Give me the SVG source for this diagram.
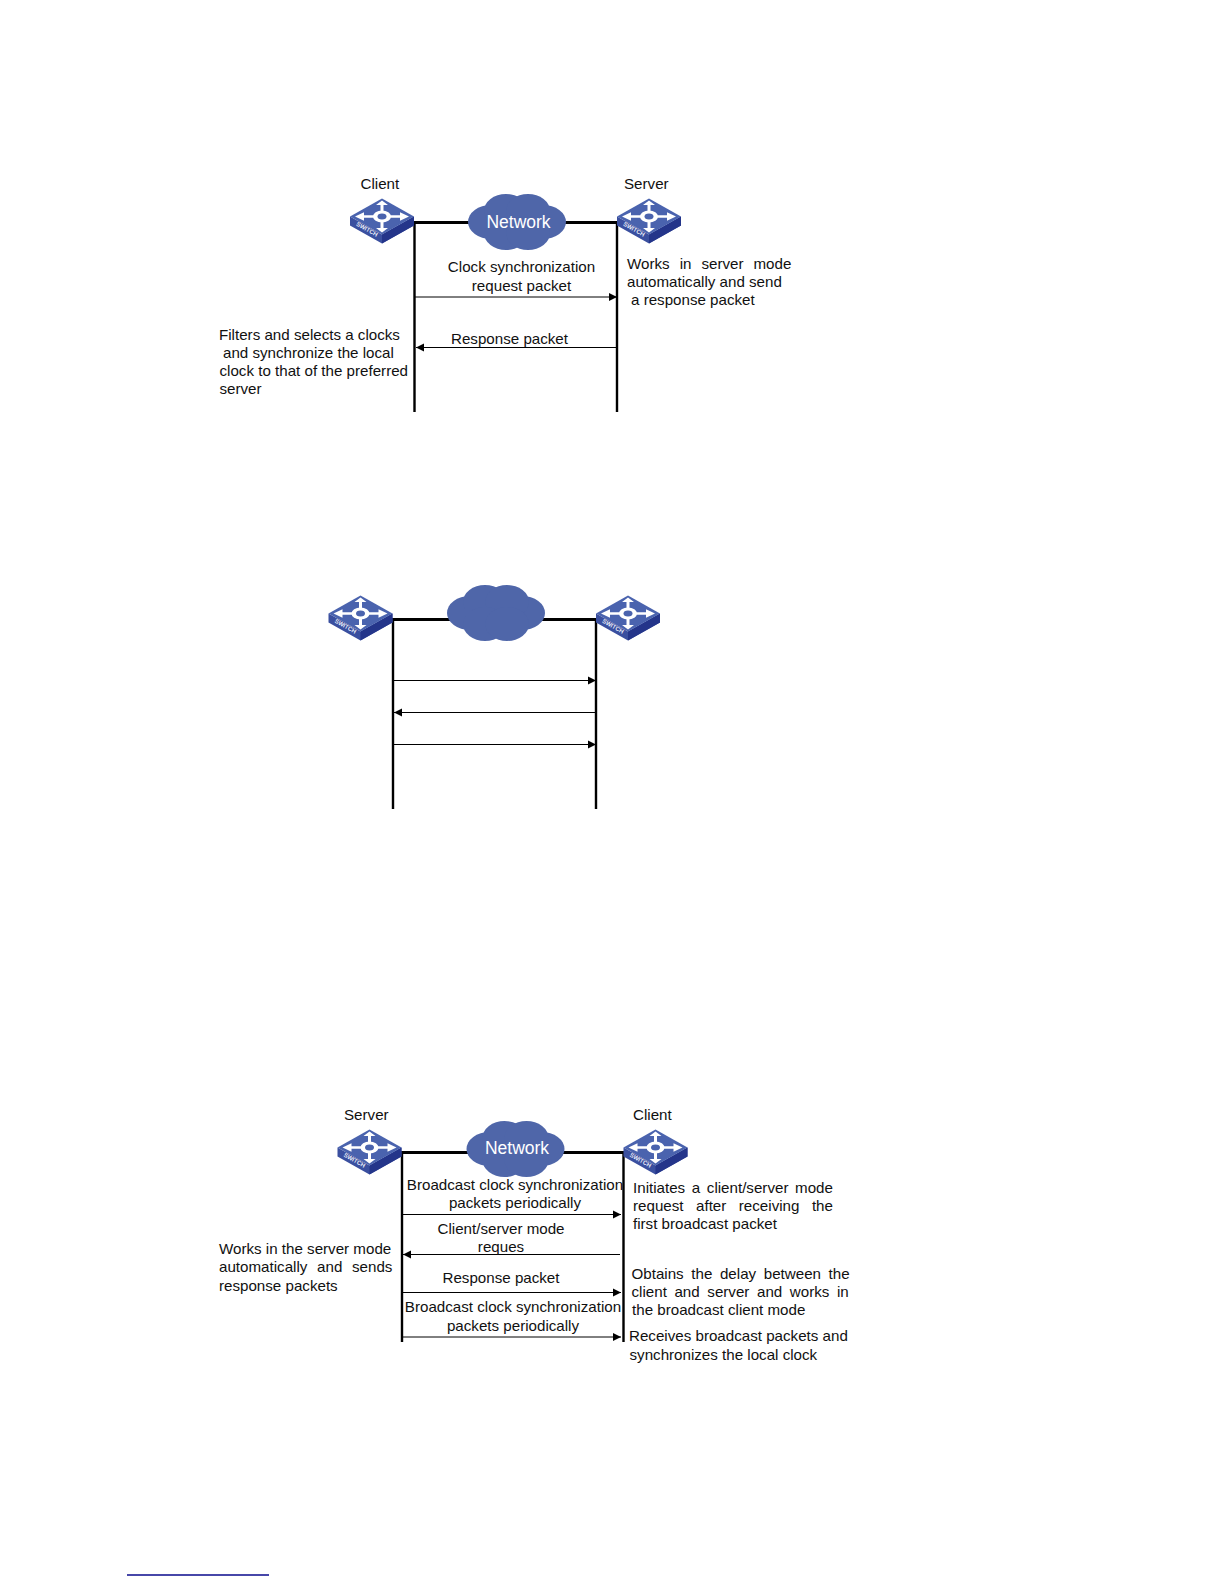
<svg xmlns="http://www.w3.org/2000/svg" width="1224" height="1584" viewBox="0 0 1224 1584">
<style>
text{font-family:"Liberation Sans",Arial,sans-serif;font-size:15.150px;fill:#111}
.c{text-anchor:middle}
.n{fill:#fff;font-size:17.500px;text-anchor:middle}
.t{fill:none;stroke:#000;stroke-width:3}
.v{fill:none;stroke:#000;stroke-width:2.400}
.a{fill:none;stroke:#000;stroke-width:1;marker-end:url(#ah)}
</style>
<defs>
<marker id="ah" markerUnits="userSpaceOnUse" markerWidth="9" markerHeight="9" refX="8" refY="4.500" orient="auto"><path d="M0 .5L8 4.500L0 8.500Z" fill="#000"/></marker>
<g id="sw">
<path d="M-32 0L0 18L32 0V9L0 27L-32 9Z" fill="#3a4f9f"/>
<path d="M0 18L32 0V9L0 27Z" fill="#24358a"/>
<path d="M-32 0L0-18L32 0L0 18Z" fill="#4a63ae"/>
<ellipse cx="0" cy="0" rx="9" ry="6" fill="#fff"/>
<ellipse cx="0" cy="0" rx="4.500" ry="3" fill="#4a63ae"/>
<path d="M0-16L-6-11.500H-1.500V-5H1.500V-11.500H6ZM0 16L-6 11.500H-1.500V5H1.500V11.500H6ZM-27 0L-18-4.200V-1.300H-8V1.300H-18V4.200ZM27 0L18-4.200V-1.300H8V1.300H18V4.200Z" fill="#fff"/>
<text x="0" y="0" transform="translate(-16 14.500) rotate(29)" style="font-size:6px;font-weight:bold;fill:#e6ebf7" text-anchor="middle">SWITCH</text>
</g>
<g id="cl">
<g fill="#4f66a9">
<ellipse cx="-26" cy="0" rx="23" ry="17"/>
<ellipse cx="26" cy="0" rx="23" ry="17"/>
<ellipse cx="-11" cy="-11" rx="22" ry="17"/>
<ellipse cx="11" cy="-11" rx="22" ry="17"/>
<ellipse cx="-11" cy="11" rx="22" ry="17"/>
<ellipse cx="11" cy="11" rx="22" ry="17"/>
</g>
</g>
</defs>

<g id="connectors">
<path class="t" d="M413 222.500H618"/>
<path class="v" d="M414.500 222V412M617 222V412"/>
<path class="a" d="M415 297H617"/>
<path class="a" d="M617 347.500H416"/>

<path class="t" d="M392 619.500H597"/>
<path class="v" d="M393 619V809M596 619V809"/>
<path class="a" d="M394 680.500H596"/>
<path class="a" d="M596 712.500H394"/>
<path class="a" d="M394 744.500H596"/>

<path class="t" d="M401 1152.500H624"/>
<path class="v" d="M402 1152V1342M623.500 1152V1342"/>
<path class="a" d="M403 1214.500H621"/>
<path class="a" d="M620 1254.500H403"/>
<path class="a" d="M403 1292.500H621"/>
<path class="a" d="M403 1337H621"/>
</g>

<g id="d1-client"><use href="#sw" x="382" y="216.500"/><text x="360.500" y="189">Client</text></g>
<g id="d1-server"><use href="#sw" x="649" y="216.500"/><text x="624" y="189">Server</text></g>
<g id="d1-network"><use href="#cl" x="517" y="222"/><text class="n" x="518.500" y="228">Network</text></g>
<g id="d1-labels">
<text class="c" x="521.500" y="272">Clock synchronization</text>
<text class="c" x="521.500" y="291">request packet</text>
<text x="627" y="269" word-spacing="5.800">Works in server mode</text>
<text x="627" y="287">automatically and send</text>
<text x="631" y="305">a response packet</text>
<text x="451" y="344">Response packet</text>
<text x="219" y="340">Filters and selects a clocks</text>
<text x="223" y="358">and synchronize the local</text>
<text x="219.500" y="376">clock to that of the preferred</text>
<text x="219.500" y="394">server</text>
</g>

<g id="d2-left"><use href="#sw" x="360.500" y="613.500"/></g>
<g id="d2-right"><use href="#sw" x="628" y="613.500"/></g>
<g id="d2-network"><use href="#cl" x="496" y="613"/></g>

<g id="d3-server"><use href="#sw" x="369.500" y="1147.500"/><text x="344" y="1120">Server</text></g>
<g id="d3-client"><use href="#sw" x="655.500" y="1147.500"/><text x="633" y="1120">Client</text></g>
<g id="d3-network"><use href="#cl" x="515.500" y="1149"/><text class="n" x="517" y="1154">Network</text></g>
<g id="d3-labels">
<text class="c" x="515" y="1190">Broadcast clock synchronization</text>
<text class="c" x="515" y="1208">packets periodically</text>
<text class="c" x="501" y="1234">Client/server mode</text>
<text class="c" x="501" y="1252">reques</text>
<text class="c" x="501" y="1283">Response packet</text>
<text class="c" x="513" y="1312">Broadcast clock synchronization</text>
<text class="c" x="513" y="1331">packets periodically</text>
<text x="219" y="1254">Works in the server mode</text>
<text x="219" y="1272" word-spacing="5.500">automatically  and sends</text>
<text x="219" y="1291">response packets</text>
<text x="633" y="1193" word-spacing="2.400">Initiates a client/server mode</text>
<text x="633" y="1211" word-spacing="8.300">request  after receiving the</text>
<text x="633" y="1229">first broadcast packet</text>
<text x="631.500" y="1279" word-spacing="3.400">Obtains the delay between the</text>
<text x="631.500" y="1297" word-spacing="3.400">client and server and works in</text>
<text x="632" y="1315">the broadcast client mode</text>
<text x="629" y="1341">Receives broadcast packets and</text>
<text x="629.500" y="1360">synchronizes the local clock</text>
</g>

<path id="footer-rule" d="M127 1575H269" stroke="#0a0a8c" stroke-width="1.500" fill="none"/>
</svg>
